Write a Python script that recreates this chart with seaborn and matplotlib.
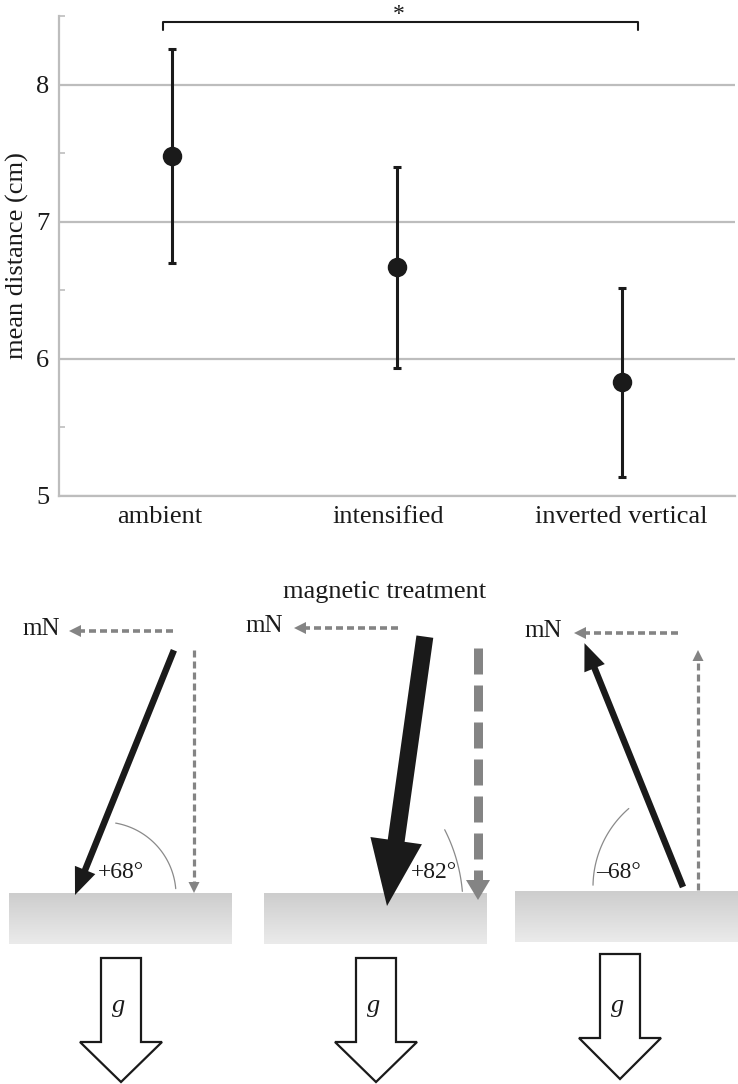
import numpy as np
import pandas as pd
import matplotlib
matplotlib.use("Agg")
import matplotlib.pyplot as plt
import seaborn as sns
from matplotlib.patches import Polygon
from matplotlib.colors import LinearSegmentedColormap
from matplotlib.transforms import ScaledTranslation

# ---------------- data ----------------
categories = ["ambient", "intensified", "inverted vertical"]
means = [7.48, 6.67, 5.83]
ci_upper = [8.26, 7.40, 6.52]
ci_lower = [6.70, 5.93, 5.14]
y_major = [5, 6, 7, 8]
y_minor = [5.5, 6.5, 7.5, 8.5]
sig_label = "*"

field_angles = [68, 82, -68]
angle_labels = ["+68°", "+82°", "–68°"]
component_label = "mN"
gravity_label = "g"
diagram_title = "magnetic treatment"

# ---------------- style ----------------
sns.set_theme(style="white")
plt.rcParams["font.family"] = ["Liberation Serif", "DejaVu Serif"]
INK = "#1a1a1a"
GRID = "#bdbdbd"
DASH = "#848484"

W, H = 738, 1084
fig = plt.figure(figsize=(W / 100, H / 100), dpi=100)

# ---------------- top chart ----------------
ax = fig.add_axes([59 / W, 1 - 496 / H, (735 - 59) / W, (496 - 16) / H])
df = pd.DataFrame({"treatment": categories, "mean": means,
                   "lo": ci_lower, "hi": ci_upper})
m = np.array(means)
ax.errorbar(np.arange(len(categories)), m,
            yerr=[m - np.array(ci_lower), np.array(ci_upper) - m],
            fmt="none", ecolor=INK, elinewidth=2.2, capsize=3.2,
            capthick=2.2, zorder=3)
sns.pointplot(data=df, x="treatment", y="mean", errorbar=None,
              linestyle="none", markers="o", color=INK, markersize=12,
              ax=ax, zorder=4)
ax.set_xlim(-0.5, 2.5)
ax.set_ylim(5, 8.5)
ax.set_yticks(y_major)
ax.set_yticklabels([str(v) for v in y_major])
ax.set_yticks(y_minor, minor=True)
ax.yaxis.grid(True, which="major", color=GRID, lw=1.6)
ax.xaxis.grid(False)
ax.tick_params(axis="y", which="major", length=0, labelsize=19, pad=7,
               labelcolor=INK)
ax.tick_params(axis="y", which="minor", direction="in", length=4.5,
               width=1.2, color=GRID, left=True)
ax.tick_params(axis="x", length=0, labelsize=19, pad=7, labelcolor=INK)
for s in ["top", "right"]:
    ax.spines[s].set_visible(False)
for s in ["left", "bottom"]:
    ax.spines[s].set_color(GRID)
    ax.spines[s].set_linewidth(1.6)
ax.set_xlabel("")
ax.set_ylabel("mean distance (cm)", fontsize=19, color=INK, labelpad=5)

# the category labels sit slightly left of the markers in the original
label_shift_px = [-12, -9, -1]
for lab, dx in zip(ax.get_xticklabels(), label_shift_px):
    lab.set_transform(lab.get_transform()
                      + ScaledTranslation(dx / 100, 0, fig.dpi_scale_trans))

# significance bracket
ax.plot([-0.04, -0.04, 2.07, 2.07], [8.40, 8.458, 8.458, 8.40],
        color=INK, lw=1.5, clip_on=False)
ax.text(1.01, 8.51, sig_label, ha="center", va="center", fontsize=17,
        color=INK, clip_on=False)

# ---------------- lower diagrams ----------------
ax2 = fig.add_axes([0, 0, 1, (H - 560) / H])
ax2.set_axis_off()

# layout (pixel-like coordinates of the drawing)
ground_x = [75, 387, 683]
ground_y = [895, 906, 887]
arrow_len = [264, 272, 263]
shaft_w = [6.5, 17, 6.5]
head_w = [22, 52, 22]
head_l = [27, 66, 27]
mn_x = [(173, 69), (398, 294), (678, 574)]
mn_y = [631, 628, 633]
mn_text_x = [60, 283, 562]
vert_x = [194, 478, 698]
vert_y = [(650, 893), (648, 900), (890, 650)]
vert_style = [(3.2, 7, 4, 11, 11), (9, 26, 11, 24, 20), (3.2, 7, 4, 11, 11)]
rect_x = [(9, 232), (264, 487), (515, 738)]
rect_y = [(893, 944), (893, 944), (891, 942)]
g_cx = [121, 376, 620]
g_top = [958, 958, 954]
g_neck = [1042, 1042, 1038]
g_tip = [1082, 1082, 1079]
arc_c = [(103, 895), (295, 906), (697, 887)]
arc_r = [73, 168, 104]
arc_span = [(5, 80), (5, 27), (131, 179)]
label_xy = [(121, 872), (434, 872), (619, 873)]


def poly_arrow(ax, x0, y0, x1, y1, sw, hw, hl, color):
    d = np.array([x1 - x0, y1 - y0], float)
    L = np.hypot(*d)
    u = d / L
    p = np.array([-u[1], u[0]])
    a = np.array([x0, y0], float)
    b = np.array([x1, y1], float) - u * hl
    tip = np.array([x1, y1], float)
    pts = [a + p * sw / 2, b + p * sw / 2, b + p * hw / 2, tip,
           b - p * hw / 2, b - p * sw / 2, a - p * sw / 2]
    ax.add_patch(Polygon(pts, closed=True, facecolor=color,
                         edgecolor="none", zorder=3))


def dashed_arrow(ax, x0, y0, x1, y1, w, dash, gap, hw, hl, color):
    d = np.array([x1 - x0, y1 - y0], float)
    L = np.hypot(*d)
    u = d / L
    p = np.array([-u[1], u[0]])
    tip = np.array([x1, y1], float)
    b = tip - u * hl
    ax.plot([x0, b[0]], [y0, b[1]], color=color, lw=w * 0.72,
            linestyle=(0, (dash / w, gap / w)), dash_capstyle="butt",
            solid_capstyle="butt", zorder=2)
    ax.add_patch(Polygon([tip, b + p * hw / 2, b - p * hw / 2],
                         closed=True, facecolor=color, edgecolor="none",
                         zorder=2))


cmap = LinearSegmentedColormap.from_list("surf", ["#cdcdcd", "#ebebeb"])
grad = np.linspace(0, 1, 100).reshape(-1, 1)

for i, ang in enumerate(field_angles):
    a = np.deg2rad(abs(ang))
    sgn = 1 if ang > 0 else -1
    gx, gy = ground_x[i], ground_y[i]
    ux = gx + sgn * arrow_len[i] * np.cos(a)
    uy = gy - arrow_len[i] * np.sin(a)
    if ang > 0:
        poly_arrow(ax2, ux, uy, gx, gy, shaft_w[i], head_w[i], head_l[i], INK)
    else:
        poly_arrow(ax2, gx, gy, ux, uy, shaft_w[i], head_w[i], head_l[i], INK)

    # horizontal (north) component
    dashed_arrow(ax2, mn_x[i][0], mn_y[i], mn_x[i][1], mn_y[i],
                 3.6, 7, 4, 12, 12, DASH)
    ax2.text(mn_text_x[i], mn_y[i] - 2, component_label, ha="right",
             va="center", fontsize=18, color=INK)

    # vertical component
    w, dsh, gp, hw, hl = vert_style[i]
    dashed_arrow(ax2, vert_x[i], vert_y[i][0], vert_x[i], vert_y[i][1],
                 w, dsh, gp, hw, hl, DASH)

    # angle arc and label
    t = np.deg2rad(np.linspace(arc_span[i][0], arc_span[i][1], 80))
    cx, cy = arc_c[i]
    ax2.plot(cx + arc_r[i] * np.cos(t), cy - arc_r[i] * np.sin(t),
             color="#8a8a8a", lw=0.9, zorder=1)
    ax2.text(label_xy[i][0], label_xy[i][1], angle_labels[i], ha="center",
             va="center", fontsize=17, color=INK, zorder=4)

    # surface
    ax2.imshow(grad, cmap=cmap, aspect="auto", origin="upper",
               extent=[rect_x[i][0], rect_x[i][1], rect_y[i][1], rect_y[i][0]],
               zorder=0)

    # gravity arrow
    c = g_cx[i]
    gpts = [(c - 20, g_top[i]), (c + 20, g_top[i]), (c + 20, g_neck[i]),
            (c + 41, g_neck[i]), (c, g_tip[i]), (c - 41, g_neck[i]),
            (c - 20, g_neck[i])]
    ax2.add_patch(Polygon(gpts, closed=True, facecolor="white",
                          edgecolor=INK, lw=1.6, joinstyle="miter", zorder=2))
    ax2.text(c - 2, 1006, gravity_label, ha="center", va="center",
             fontsize=19, style="italic", color=INK, zorder=3)

ax2.text(385, 592, diagram_title, ha="center", va="center", fontsize=19,
         color=INK)
ax2.set_xlim(0, W)
ax2.set_ylim(H, 560)

fig.savefig("out.png", dpi=100)
